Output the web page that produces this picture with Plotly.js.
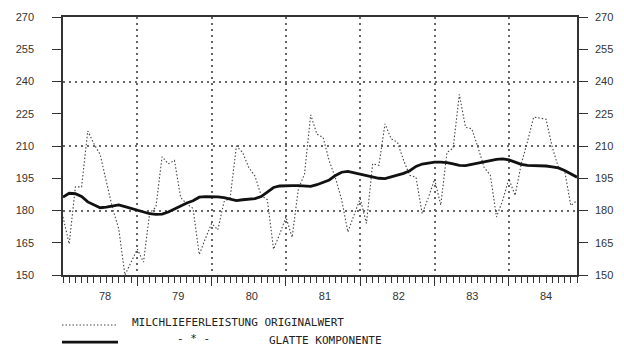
<!DOCTYPE html>
<html>
<head>
<meta charset="utf-8">
<script src="https://cdn.plot.ly/plotly-3.0.1.min.js"></script>
<style>html,body{margin:0;padding:0;background:#fff}#chart{width:624px;height:350px}</style>
</head>
<body>
<div id="chart"></div>
<script>
// Monthly values Jan 1978 .. Dec 1984
const yearLabels = ['78', '79', '80', '81', '82', '83', '84'];
const yearTicks = [12, 24, 36, 48, 60, 72];
const yearLabelPos = [6.8, 18.6, 30.5, 42.3, 54.2, 66.1, 78];
const yTicks = [150, 165, 180, 195, 210, 225, 240, 255, 270];
const yGrid = [180, 210, 240];

const original = [
  177, 164.5, 191, 191, 217, 211, 206, 193, 181, 171.5, 150, 156,
  162, 156, 179, 181.5, 205, 201.7, 203.3, 186, 183, 181, 159.5, 167,
  174, 171, 184, 186, 210, 207, 200, 196, 187, 185, 162, 169,
  177, 167.5, 190, 197, 224.5, 215.5, 214, 203, 195, 185, 170, 178,
  185.5, 174, 201.7, 201, 220.3, 213.3, 211.8, 203.3, 196.3, 195.5, 178.5, 186,
  194.5, 182.5, 207, 209, 234, 218.7, 218, 209.5, 200, 196.5, 177, 184.7,
  194.7, 187, 201.7, 212, 223.4, 223, 222.5, 209.5, 200, 198.6, 182.3, 184.7
];
const smooth = [
  186.2, 188, 187.8, 186.5, 184, 182.5, 181.3, 181.6, 182, 182.6, 181.8, 181,
  180.2, 179.2, 178.5, 178.2, 178.3, 179.3, 180.8, 182.3, 183.5, 184.5, 186.2, 186.5,
  186.5, 186.3, 186, 185.2, 184.6, 185, 185.2, 185.5, 186.5, 188.5, 190.7, 191.4,
  191.6, 191.6, 191.6, 191.3, 191.2, 192, 193.2, 194.2, 196.3, 197.8, 198.2, 197.6,
  197, 196.3, 195.8, 195, 194.8, 195.6, 196.6, 197.3, 198.5, 200.5, 201.6, 202.2,
  202.5, 202.5, 202.3, 201.7, 201, 200.9, 201.5, 202.3, 202.8, 203.4, 203.8, 204,
  203.5, 202.5, 201.5, 201, 200.9, 200.9, 200.7, 200.3, 199.8, 198.6, 197, 195.5
];
const months = original.map((_, i) => i);

const axisColor = '#333';
const gridColor = '#666';
const tickFont = {family: 'Liberation Sans, Arial, sans-serif', size: 11, color: '#333'};
const legFont = {family: 'DejaVu Sans Mono, monospace', size: 11, color: '#222'};

const traces = [
  {x: months, y: original, type: 'scatter', mode: 'lines',
   line: {color: '#444', width: 1.1, dash: '1.5px,2px'}, name: 'MILCHLIEFERLEISTUNG ORIGINALWERT', hoverinfo: 'skip'},
  {x: months, y: smooth, type: 'scatter', mode: 'lines',
   line: {color: '#111', width: 2.8}, name: 'GLATTE KOMPONENTE', hoverinfo: 'skip'}
];

const layout = {
  width: 624, height: 350,
  margin: {l: 63, r: 47, t: 17, b: 75},
  paper_bgcolor: '#fff', plot_bgcolor: '#fff',
  showlegend: false,
  xaxis: {
    range: [0, 83], tickmode: 'linear', tick0: 0, dtick: 1, showticklabels: false,
    ticks: 'outside', ticklen: 6, tickwidth: 1, tickcolor: axisColor,
    showgrid: false,
    showline: true, linecolor: axisColor, linewidth: 1.5, mirror: true, zeroline: false
  },
  xaxis2: {
    range: [0, 83], overlaying: 'x', anchor: 'y', side: 'bottom',
    tickmode: 'array', tickvals: yearLabelPos, ticktext: yearLabels,
    ticks: '', showline: false, showgrid: false, zeroline: false,
    tickfont: tickFont, ticklabelstandoff: 13
  },
  xaxis3: {
    range: [0, 83], overlaying: 'x', anchor: 'y', side: 'bottom',
    tickmode: 'array', tickvals: yearTicks, showticklabels: false,
    ticks: 'outside', ticklen: 10, tickwidth: 1.3, tickcolor: axisColor,
    showline: false, zeroline: false,
    showgrid: true, gridcolor: gridColor, griddash: '2px,4px', gridwidth: 2
  },
  yaxis: {
    range: [150, 270], tickmode: 'array', tickvals: yTicks,
    ticks: 'outside', ticklen: 9, tickwidth: 1.2, tickcolor: axisColor,
    showline: true, linecolor: axisColor, linewidth: 1.5, showgrid: false, zeroline: false,
    tickfont: tickFont, ticklabelstandoff: 16
  },
  yaxis2: {
    range: [150, 270], overlaying: 'y', side: 'right', anchor: 'x', tickmode: 'array', tickvals: yTicks,
    ticks: 'outside', ticklen: 9, tickwidth: 1.2, tickcolor: axisColor,
    showline: true, linecolor: axisColor, linewidth: 1.5, showgrid: false, zeroline: false,
    tickfont: tickFont, ticklabelstandoff: 5
  },
  yaxis3: {
    range: [150, 270], overlaying: 'y', side: 'left', anchor: 'x', tickmode: 'array', tickvals: yGrid,
    ticks: '', showticklabels: false, showline: false, zeroline: false,
    showgrid: true, gridcolor: gridColor, griddash: '2px,4px', gridwidth: 2
  },
  shapes: [
    {type: 'line', xref: 'paper', yref: 'paper', x0: -0.002, x1: 0.105, y0: -0.194, y1: -0.194,
     line: {color: '#444', width: 1.1, dash: '1.5px,2px'}},
    {type: 'line', xref: 'paper', yref: 'paper', x0: -0.002, x1: 0.107, y0: -0.26, y1: -0.26,
     line: {color: '#111', width: 2.8}}
  ],
  annotations: [
    {xref: 'paper', yref: 'paper', x: 0.13, y: -0.183, xanchor: 'left', yanchor: 'middle',
     text: 'MILCHLIEFERLEISTUNG ORIGINALWERT', showarrow: false, font: legFont},
    {xref: 'paper', yref: 'paper', x: 0.253, y: -0.248, xanchor: 'center', yanchor: 'middle',
     text: '- * -', showarrow: false, font: legFont},
    {xref: 'paper', yref: 'paper', x: 0.397, y: -0.252, xanchor: 'left', yanchor: 'middle',
     text: 'GLATTE KOMPONENTE', showarrow: false, font: legFont}
  ]
};

const data = [traces[0], traces[1],
  {x: [], y: [], xaxis: 'x2', yaxis: 'y', type: 'scatter', showlegend: false},
  {x: [], y: [], xaxis: 'x3', yaxis: 'y', type: 'scatter', showlegend: false},
  {x: [], y: [], xaxis: 'x', yaxis: 'y2', type: 'scatter', showlegend: false},
  {x: [], y: [], xaxis: 'x', yaxis: 'y3', type: 'scatter', showlegend: false}];

Plotly.newPlot('chart', data, layout, {displayModeBar: false});
</script>
</body>
</html>
